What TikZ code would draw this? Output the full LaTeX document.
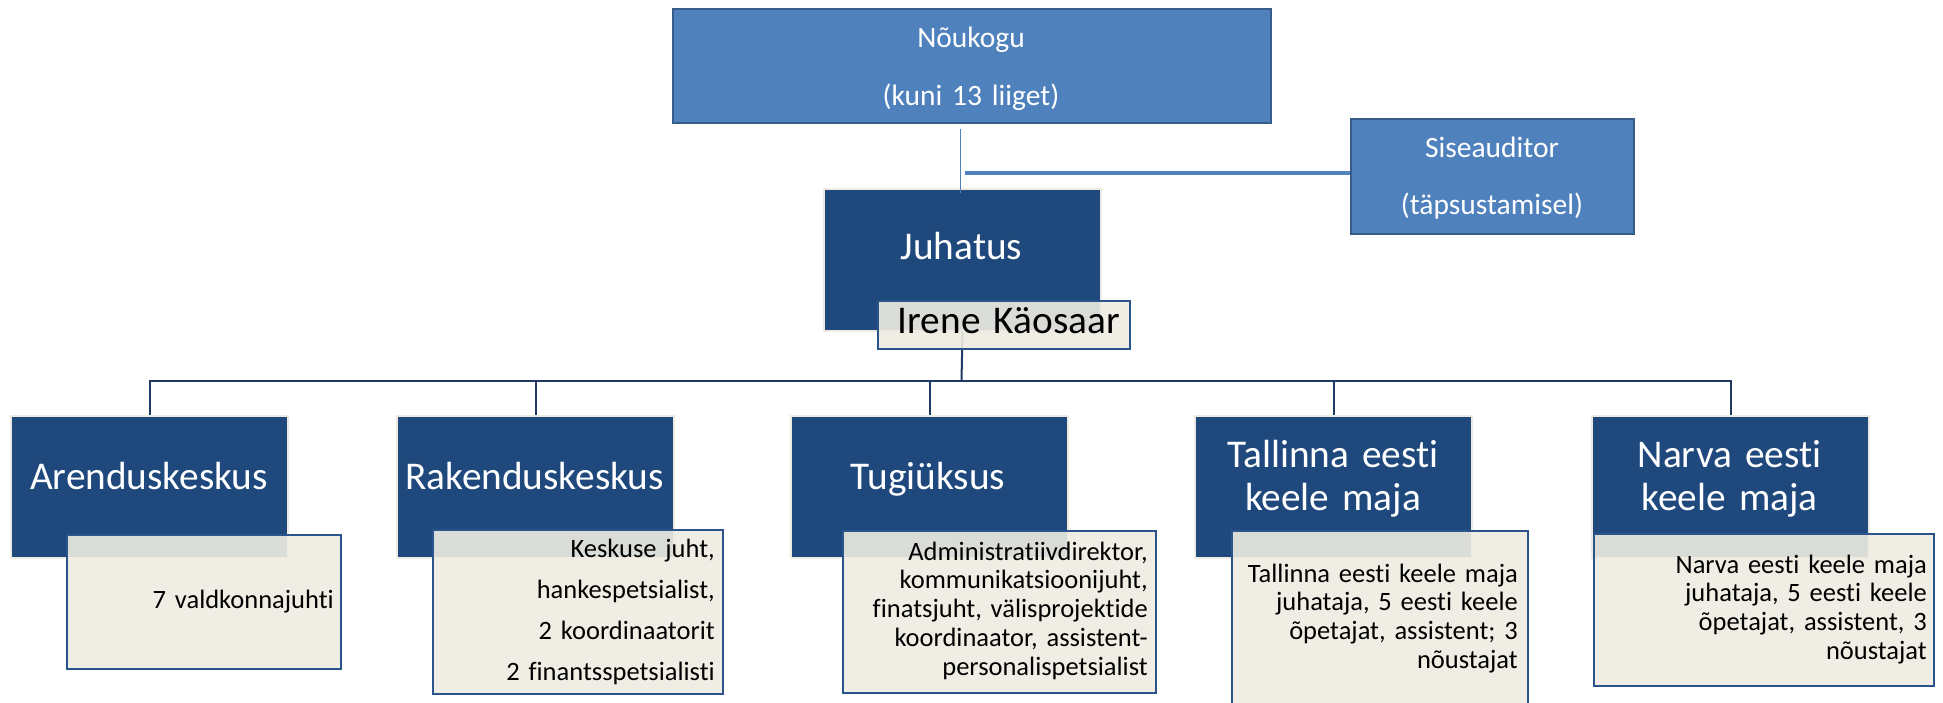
\documentclass[tikz,border=0pt]{standalone}
\usepackage{fontspec}
\setmainfont{Carlito}[Ligatures=NoCommon]
\definecolor{darkbox}{RGB}{31,73,125}
\definecolor{midblue}{RGB}{79,129,189}
\definecolor{midedge}{RGB}{56,93,138}
\definecolor{cream}{RGB}{238,236,225}
\definecolor{detedge}{RGB}{44,84,140}
\definecolor{conncol}{RGB}{31,56,100}
\begin{document}
\begin{tikzpicture}[x=1pt,y=-1pt,
  mainbox/.style={draw=cream, line width=2pt, fill=darkbox, inner sep=0pt, anchor=north west, minimum width=277pt, minimum height=142pt},
  topbox/.style={draw=midedge, line width=2pt, fill=midblue, inner sep=0pt, anchor=north west},
  detbox/.style={draw=detedge, line width=2pt, fill=cream, fill opacity=0.9, draw opacity=1, inner sep=0pt, anchor=north west},
  conn/.style={draw=conncol, line width=2pt},
  thinconn/.style={draw=midblue, line width=1.2pt},
  audconn/.style={draw=midblue, line width=4pt},
  head/.style={text=white, font=\fontsize{39.3}{43}\selectfont, inner sep=0pt, anchor=base, align=center, text width=275pt},
  toptxt/.style={text=white, font=\fontsize{29.5}{58}\selectfont, inner sep=0pt, anchor=base, align=center, text width=400pt},
  dettxt/.style={text=black, font=\fontsize{26.5}{28.8}\selectfont, inner sep=0pt, anchor=base east, align=right, text width=330pt},
]
\useasboundingbox (0,0) rectangle (1943,703);
\clip (0,0) rectangle (1943,703);

% top boxes
\node[topbox, minimum width=598pt, minimum height=114pt] (nou) at (672,8) {};
\node[topbox, minimum width=283pt, minimum height=115pt] (sis) at (1350,118) {};
% main boxes
\node[mainbox] (juh) at (823,188) {};
\node[mainbox] (arend) at (10,415) {};
\node[mainbox] (rakend) at (396,415) {};
\node[mainbox] (tugi) at (790,415) {};
\node[mainbox] (tallinn) at (1194,415) {};
\node[mainbox] (narva) at (1591,415) {};

% connectors
\draw[thinconn] ([xshift=-2pt,yshift=-5pt]juh.north |- nou.south) -- ([xshift=-2pt,yshift=-5pt]juh.north);
\draw[audconn] ([yshift=3pt]sis.west) -- ([xshift=2pt,yshift=3pt]juh.north |- sis.west);
\coordinate (bus) at (961.5,380.5);
\draw[conn] (juh.south) -- (bus);
\draw[conn] (bus) -| (arend.north);
\draw[conn] (bus) -| (rakend.north);
\draw[conn] (bus) -| (tugi.north);
\draw[conn] (bus) -| (tallinn.north);
\draw[conn] (bus) -| (narva.north);

% detail boxes
\node[detbox, minimum width=252pt, minimum height=48pt] (irene) at (877,300) {};
\node[detbox, minimum width=274pt, minimum height=134pt] (arendd) at (66,534) {};
\node[detbox, minimum width=290pt, minimum height=164pt] (rakendd) at (432,529) {};
\node[detbox, minimum width=313pt, minimum height=162pt] (tugid) at (842,530) {};
\node[detbox, minimum width=296pt, minimum height=185pt] (tallinnd) at (1231,530) {};
\node[detbox, minimum width=340pt, minimum height=152pt] (narvad) at (1593,533) {};

% texts
\node[toptxt] (nou-t) at (971,48) {Nõukogu\\(kuni 13 liiget)};
\node[toptxt, font=\fontsize{29.5}{57}\selectfont] (sis-t) at (1492,158) {Siseauditor\\(täpsustamisel)};
\node[head] (juh-t) at (961.5,260) {Juhatus};
\node[head, text=black, anchor=base east, align=right] (irene-t) at (1120,334) {Irene Käosaar};
\node[head] (arend-t) at (149,489) {Arenduskeskus};
\node[head] (rakend-t) at (534.5,489) {Rakenduskeskus};
\node[head] (tugi-t) at (928,489) {Tugiüksus};
\node[head] (tallinn-t) at (1333,467) {Tallinna eesti\\keele maja};
\node[head] (narva-t) at (1729.5,467) {Narva eesti\\keele maja};

\node[dettxt] (arendd-t) at (334,608) {7 valdkonnajuhti};
\node[dettxt, font=\fontsize{26.5}{41}\selectfont] (rakendd-t) at (715,557) {Keskuse juht,\\hankespetsialist,\\2 koordinaatorit\\2 finantsspetsialisti};
\node[dettxt] (tugid-t) at (1148,560) {Administratiivdirektor,\\kommunikatsioonijuht,\\finatsjuht, välisprojektide\\koordinaator, assistent-\\personalispetsialist};
\node[dettxt] (tallinnd-t) at (1518,582) {Tallinna eesti keele maja\\juhataja, 5 eesti keele\\õpetajat, assistent; 3\\nõustajat};
\node[dettxt] (narvad-t) at (1927,573) {Narva eesti keele maja\\juhataja, 5 eesti keele\\õpetajat, assistent, 3\\nõustajat};
\end{tikzpicture}
\end{document}
